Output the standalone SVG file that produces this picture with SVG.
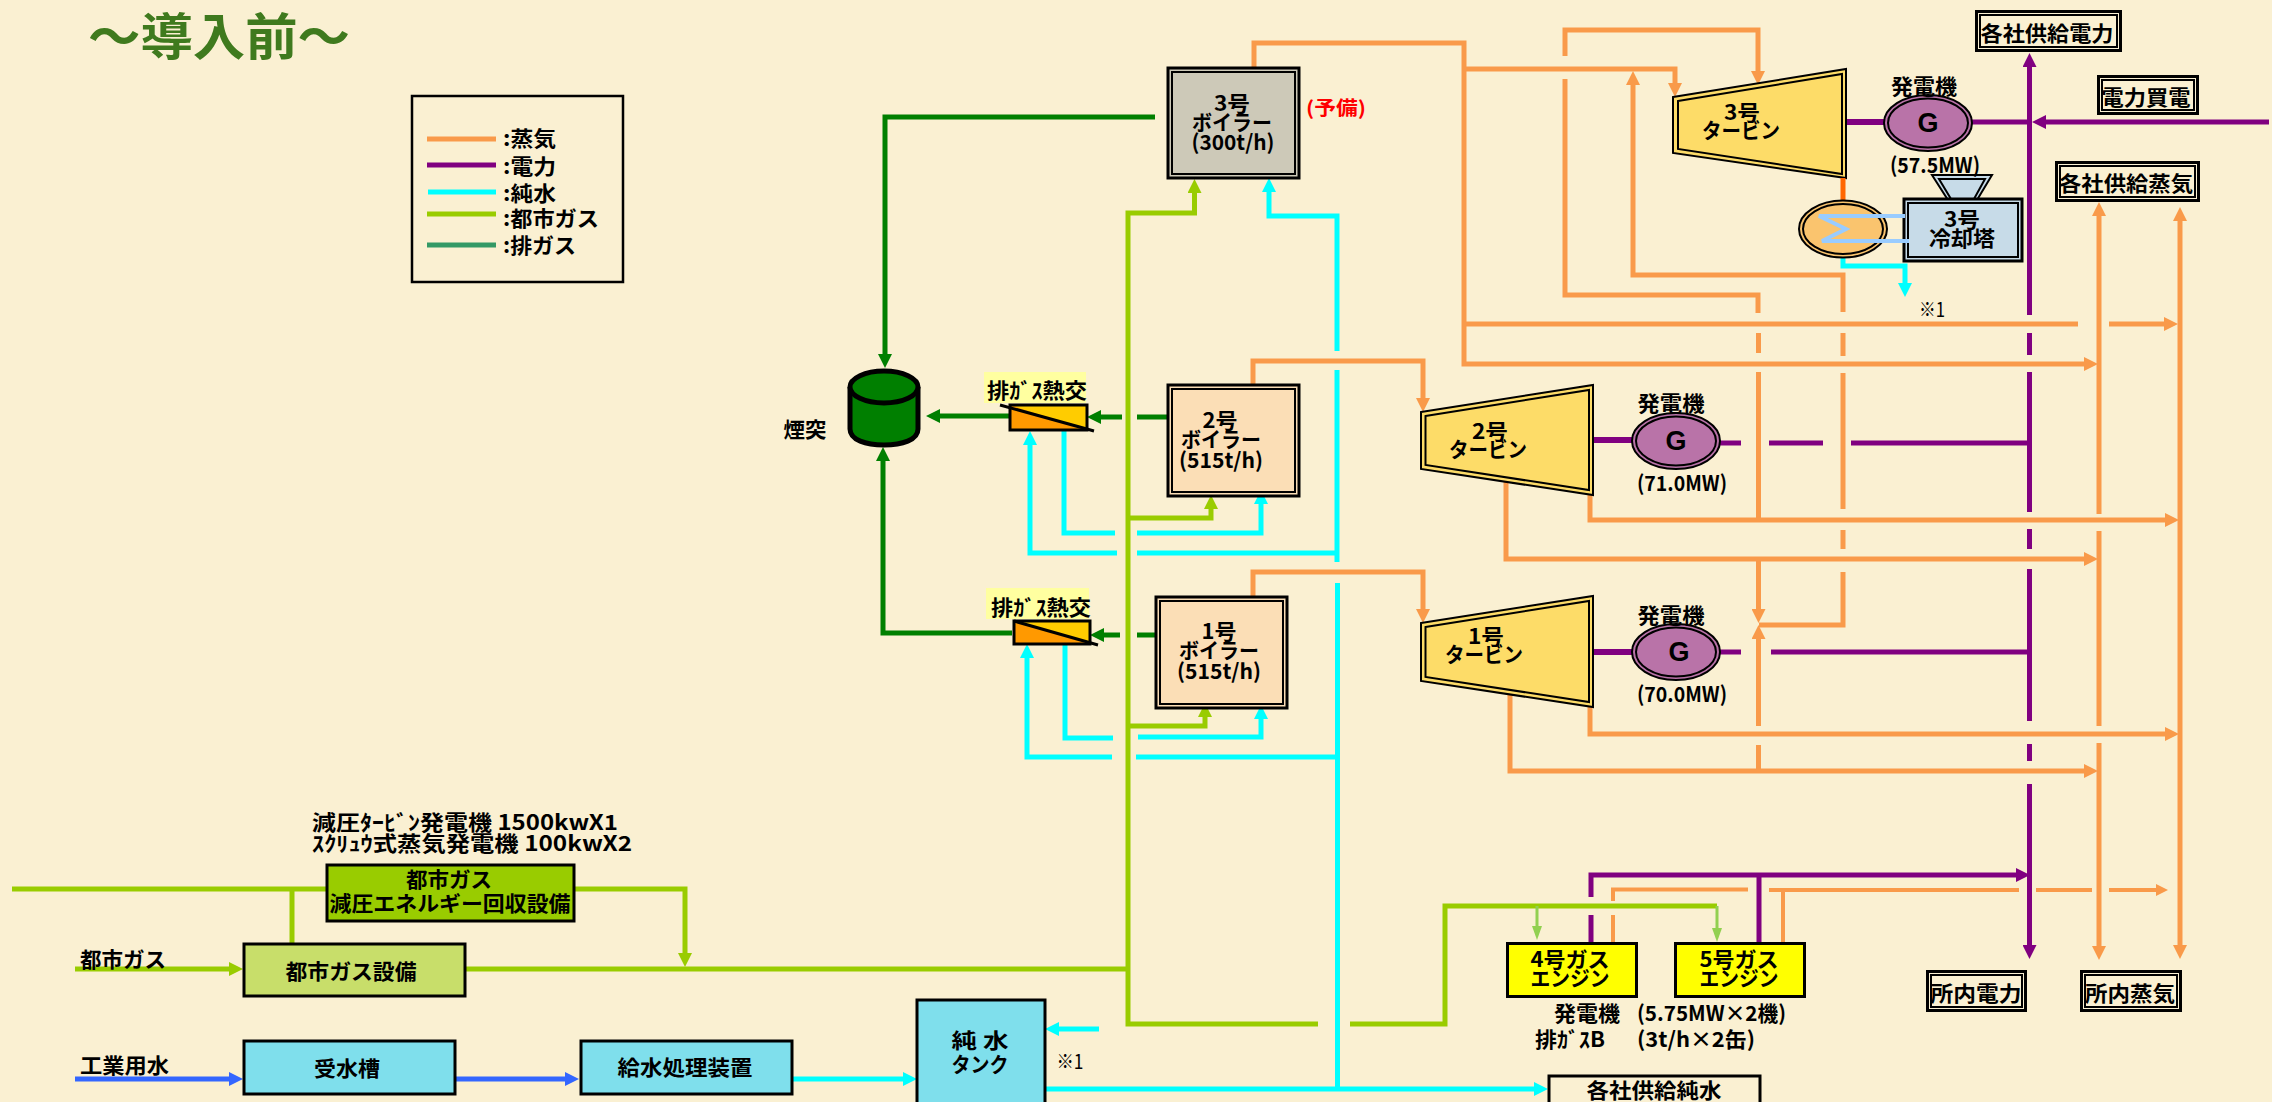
<svg xmlns="http://www.w3.org/2000/svg" width="2272" height="1102" viewBox="0 0 2272 1102">
<style>
text{font-family:"Noto Sans CJK JP","Noto Sans",sans-serif;font-weight:700;fill:#000;text-anchor:middle;dominant-baseline:central;font-size:21px}
.l{text-anchor:start}
.n{font-weight:400}
.g{font-family:"Liberation Sans",Arial,sans-serif;font-size:27px}
line,polyline{fill:none}
.st{stroke:#f99a4a;stroke-width:5}
.st3{stroke:#f99a4a;stroke-width:4}
.pu{stroke:#800080;stroke-width:5}
.cy{stroke:#00ffff;stroke-width:5}
.ga{stroke:#99cc00;stroke-width:5}
.gl{stroke:#92d050;stroke-width:3}
.gr{stroke:#007f00;stroke-width:5}
.bl{stroke:#3366ff;stroke-width:5}
.box{stroke:#000;stroke-width:3}
.fr{stroke:#000;stroke-width:2;fill:none}
</style>
<defs>
<marker id="aS" markerUnits="userSpaceOnUse" markerWidth="14" markerHeight="14" viewBox="0 0 14 14" refX="7" refY="7" orient="auto"><path d="M0 0L14 7L0 14Z" fill="#f99a4a"/></marker>
<marker id="aSs" markerUnits="userSpaceOnUse" markerWidth="12" markerHeight="12" viewBox="0 0 14 14" refX="7" refY="7" orient="auto"><path d="M0 0L14 7L0 14Z" fill="#f99a4a"/></marker>
<marker id="aP" markerUnits="userSpaceOnUse" markerWidth="14" markerHeight="14" viewBox="0 0 14 14" refX="7" refY="7" orient="auto"><path d="M0 0L14 7L0 14Z" fill="#800080"/></marker>
<marker id="aC" markerUnits="userSpaceOnUse" markerWidth="14" markerHeight="14" viewBox="0 0 14 14" refX="7" refY="7" orient="auto"><path d="M0 0L14 7L0 14Z" fill="#00ffff"/></marker>
<marker id="aG" markerUnits="userSpaceOnUse" markerWidth="14" markerHeight="14" viewBox="0 0 14 14" refX="7" refY="7" orient="auto"><path d="M0 0L14 7L0 14Z" fill="#99cc00"/></marker>
<marker id="aL" markerUnits="userSpaceOnUse" markerWidth="14" markerHeight="14" viewBox="0 0 14 10" refX="7" refY="5" orient="auto"><path d="M0 0L14 5L0 10Z" fill="#92d050"/></marker>
<marker id="aD" markerUnits="userSpaceOnUse" markerWidth="14" markerHeight="14" viewBox="0 0 14 14" refX="7" refY="7" orient="auto"><path d="M0 0L14 7L0 14Z" fill="#007f00"/></marker>
<marker id="aB" markerUnits="userSpaceOnUse" markerWidth="14" markerHeight="14" viewBox="0 0 14 14" refX="7" refY="7" orient="auto"><path d="M0 0L14 7L0 14Z" fill="#3366ff"/></marker>
</defs>
<rect width="2272" height="1102" fill="#faf0d2"/>
<text id="title" x="219" y="33" textLength="262" lengthAdjust="spacingAndGlyphs" style="font-size:50px;fill:#3f7a1e">～導入前～</text>

<g id="connectors">
<!-- steam -->
<polyline class="st" points="1254,68 1254,43 1464,43 1464,364 2091,364" marker-end="url(#aS)"/>
<polyline class="st" points="1464,69 1675,69 1675,90" marker-end="url(#aS)"/>
<polyline class="st" points="1464,324 2078,324"/>
<line class="st" x1="2109" y1="324" x2="2171" y2="324" marker-end="url(#aS)"/>
<polyline class="st" points="1565,56 1565,30 1758,30 1758,78" marker-end="url(#aS)"/>
<polyline class="st" points="1565,79 1565,295 1758,295 1758,313"/>
<line class="st" x1="1758.500" y1="333" x2="1758.500" y2="353"/>
<line class="st" x1="1758.500" y1="372" x2="1758.500" y2="520"/>
<line class="st" x1="1758.500" y1="559" x2="1758.500" y2="616" marker-end="url(#aS)"/>
<line class="st" x1="1758.500" y1="726" x2="1758.500" y2="632" marker-end="url(#aS)"/>
<line class="st" x1="1758.500" y1="745" x2="1758.500" y2="771"/>
<polyline class="st" points="1843,312 1843,275 1633,275 1633,78" marker-end="url(#aS)"/>
<line class="st" x1="1843" y1="333" x2="1843" y2="356"/>
<line class="st" x1="1843" y1="373" x2="1843" y2="509"/>
<line class="st" x1="1843" y1="530" x2="1843" y2="549"/>
<polyline class="st" points="1843,572 1843,625 1759,625"/>
<polyline class="st" points="1253,386 1253,361 1423,361 1423,405" marker-end="url(#aS)"/>
<polyline class="st" points="1253,598 1253,572 1423,572 1423,616" marker-end="url(#aS)"/>
<polyline class="st" points="1590,493 1590,520 2172,520" marker-end="url(#aS)"/>
<polyline class="st" points="1506,478 1506,559 2091,559" marker-end="url(#aS)"/>
<polyline class="st" points="1590,705 1590,734 2172,734" marker-end="url(#aS)"/>
<polyline class="st" points="1510,694 1510,771 2091,771" marker-end="url(#aS)"/>
<line class="st" x1="2099" y1="514" x2="2099" y2="209" marker-end="url(#aS)"/>
<line class="st" x1="2099" y1="531" x2="2099" y2="726"/>
<line class="st" x1="2099" y1="743" x2="2099" y2="953" marker-end="url(#aS)"/>
<line class="st" x1="2180" y1="500" x2="2180" y2="952" marker-end="url(#aS)"/>
<line class="st" x1="2180" y1="500" x2="2180" y2="214" marker-end="url(#aS)"/>
<polyline class="st3" points="1613,943 1613,915"/>
<polyline class="st3" points="1613,901 1613,889.500 1748,889.500"/>
<line class="st3" x1="1769" y1="890" x2="2019" y2="890"/>
<line class="st3" x1="2036" y1="890" x2="2092" y2="890"/>
<line class="st3" x1="2109" y1="890" x2="2162" y2="890" marker-end="url(#aSs)"/>
<line class="st3" x1="1783" y1="943" x2="1783" y2="890"/>
<!-- power -->
<line class="pu" x1="1846" y1="122" x2="1884" y2="122" style="stroke-width:6"/>
<line class="pu" x1="1972" y1="122" x2="2030" y2="122"/>
<line class="pu" x1="2269" y1="122" x2="2039" y2="122" marker-end="url(#aP)"/>
<line class="pu" x1="2029.500" y1="315" x2="2029.500" y2="60" marker-end="url(#aP)"/>
<line class="pu" x1="2029.500" y1="333" x2="2029.500" y2="355"/>
<line class="pu" x1="2029.500" y1="372" x2="2029.500" y2="512"/>
<line class="pu" x1="2029.500" y1="529" x2="2029.500" y2="549"/>
<line class="pu" x1="2029.500" y1="569" x2="2029.500" y2="721"/>
<line class="pu" x1="2029.500" y1="744" x2="2029.500" y2="761"/>
<line class="pu" x1="2029.500" y1="784" x2="2029.500" y2="952" marker-end="url(#aP)"/>
<line class="pu" x1="1590" y1="440" x2="1632" y2="440" style="stroke-width:6"/>
<line class="pu" x1="1720" y1="443" x2="1741" y2="443"/>
<line class="pu" x1="1769" y1="443" x2="1823" y2="443"/>
<line class="pu" x1="1851" y1="443" x2="2029" y2="443"/>
<line class="pu" x1="1590" y1="652" x2="1632" y2="652" style="stroke-width:6"/>
<line class="pu" x1="1720" y1="652" x2="1741" y2="652"/>
<line class="pu" x1="1771" y1="652" x2="2029" y2="652"/>
<line class="pu" x1="1591" y1="943" x2="1591" y2="915"/>
<polyline class="pu" points="1591,897 1591,875 2023,875" marker-end="url(#aP)"/>
<line class="pu" x1="1759" y1="943" x2="1759" y2="875"/>
<!-- pure water -->
<polyline class="cy" points="1843,257 1843,266 1905,266 1905,290" marker-end="url(#aC)"/>
<polyline class="cy" points="1337,351 1337,216 1269,216 1269,185" marker-end="url(#aC)"/>
<line class="cy" x1="1337" y1="370" x2="1337" y2="562"/>
<line class="cy" x1="1337.500" y1="583" x2="1337.500" y2="1090"/>
<polyline class="cy" points="1064,430 1064,533 1115,533"/>
<polyline class="cy" points="1137,533 1261,533 1261,497" marker-end="url(#aC)"/>
<polyline class="cy" points="1117,553 1030,553 1030,438" marker-end="url(#aC)"/>
<line class="cy" x1="1137" y1="553" x2="1337" y2="553"/>
<polyline class="cy" points="1065,644 1065,738 1113,738"/>
<polyline class="cy" points="1138,737 1261,737 1261,712" marker-end="url(#aC)"/>
<polyline class="cy" points="1112,757 1027,757 1027,651" marker-end="url(#aC)"/>
<line class="cy" x1="1136" y1="757" x2="1337" y2="757"/>
<line class="cy" x1="792" y1="1079" x2="910" y2="1079" marker-end="url(#aC)"/>
<line class="cy" x1="1099" y1="1029" x2="1052" y2="1029" marker-end="url(#aC)"/>
<line class="cy" x1="1044" y1="1089" x2="1541" y2="1089" marker-end="url(#aC)"/>
<!-- city gas -->
<polyline class="ga" points="1318,1024 1128,1024 1128,213 1194.500,213 1194.500,186" marker-end="url(#aG)"/>
<polyline class="ga" points="1350,1024 1445,1024 1445,906 1717,906"/>
<line class="gl" x1="1537" y1="906" x2="1537" y2="933" marker-end="url(#aL)"/>
<line class="gl" x1="1717" y1="906" x2="1717" y2="935" marker-end="url(#aL)"/>
<line class="ga" x1="465" y1="969" x2="1128" y2="969"/>
<polyline class="ga" points="1127,518 1211,518 1211,502" marker-end="url(#aG)"/>
<polyline class="ga" points="1127,726 1205,726 1205,710" marker-end="url(#aG)"/>
<line class="ga" x1="12" y1="889" x2="326" y2="889"/>
<polyline class="ga" points="574,889 685,889 685,960" marker-end="url(#aG)"/>
<line class="ga" x1="292" y1="889" x2="292" y2="943"/>
<line class="ga" x1="75" y1="969" x2="236" y2="969" marker-end="url(#aG)"/>
<!-- exhaust -->
<polyline class="gr" points="1155,117 885,117 885,361" marker-end="url(#aD)"/>
<line class="gr" x1="1012" y1="416" x2="933" y2="416" marker-end="url(#aD)"/>
<line class="gr" x1="1122" y1="417" x2="1094" y2="417" marker-end="url(#aD)"/>
<line class="gr" x1="1137" y1="417" x2="1168" y2="417"/>
<polyline class="gr" points="1012,633 883,633 883,454" marker-end="url(#aD)"/>
<line class="gr" x1="1120" y1="635" x2="1097" y2="635" marker-end="url(#aD)"/>
<line class="gr" x1="1137" y1="635" x2="1156" y2="635"/>
<!-- industrial water -->
<line class="bl" x1="75" y1="1079" x2="236" y2="1079" marker-end="url(#aB)"/>
<line class="bl" x1="455" y1="1079" x2="572" y2="1079" marker-end="url(#aB)"/>
</g>

<g id="legend">
<rect x="412" y="96" width="211" height="186" fill="none" stroke="#000" stroke-width="2.500"/>
<line class="st" x1="427" y1="139" x2="496" y2="139"/>
<line class="pu" x1="427" y1="165" x2="496" y2="165"/>
<line class="cy" x1="428" y1="192" x2="496" y2="192"/>
<line class="ga" x1="427" y1="214" x2="496" y2="214"/>
<line x1="427" y1="245" x2="496" y2="245" stroke="#339966" stroke-width="5"/>
<text class="l" x="503" y="137" textLength="53" lengthAdjust="spacingAndGlyphs">:蒸気</text>
<text class="l" x="503" y="165" textLength="53" lengthAdjust="spacingAndGlyphs">:電力</text>
<text class="l" x="503" y="192" textLength="53" lengthAdjust="spacingAndGlyphs">:純水</text>
<text class="l" x="503" y="217" textLength="96" lengthAdjust="spacingAndGlyphs">:都市ガス</text>
<text class="l" x="503" y="244" textLength="73" lengthAdjust="spacingAndGlyphs">:排ガス</text>
</g>

<g id="boiler3">
<rect class="box" x="1168" y="68" width="131" height="110" fill="#cdc9b8"/><rect class="fr" x="1172" y="72" width="123" height="102"/>
<text x="1232" y="102" textLength="36" lengthAdjust="spacingAndGlyphs">3号</text>
<text x="1232" y="121" textLength="80" lengthAdjust="spacingAndGlyphs">ボイラー</text>
<text x="1233" y="141" textLength="83" lengthAdjust="spacingAndGlyphs">(300t/h)</text>
</g>
<text id="reserve" x="1336" y="106" textLength="60" lengthAdjust="spacingAndGlyphs" style="fill:#ff0000;font-size:19px">(予備)</text>

<g id="boiler2">
<rect class="box" x="1168" y="385" width="131" height="111" fill="#fbdeb6"/><rect class="fr" x="1172" y="389" width="123" height="103"/>
<text x="1220" y="419" textLength="35" lengthAdjust="spacingAndGlyphs">2号</text>
<text x="1221" y="438" textLength="80" lengthAdjust="spacingAndGlyphs">ボイラー</text>
<text x="1221" y="459" textLength="84" lengthAdjust="spacingAndGlyphs">(515t/h)</text>
</g>
<g id="boiler1">
<rect class="box" x="1156" y="597" width="131" height="111" fill="#fbdeb6"/><rect class="fr" x="1160" y="601" width="123" height="103"/>
<text x="1219" y="630" textLength="35" lengthAdjust="spacingAndGlyphs">1号</text>
<text x="1219" y="649" textLength="80" lengthAdjust="spacingAndGlyphs">ボイラー</text>
<text x="1219" y="670" textLength="84" lengthAdjust="spacingAndGlyphs">(515t/h)</text>
</g>

<g id="turbine3">
<polygon points="1673,97 1846,69 1846,178 1673,153" fill="#fddc68" stroke="#000" stroke-width="2"/>
<polygon points="1678,101 1842,74 1842,174 1678,149" fill="none" stroke="#000" stroke-width="2"/>
<text x="1742" y="111" textLength="36" lengthAdjust="spacingAndGlyphs">3号</text>
<text x="1741" y="129" textLength="78" lengthAdjust="spacingAndGlyphs">タービン</text>
</g>
<g id="turbine2">
<polygon points="1421,412 1593,385 1593,495 1421,469" fill="#fddc68" stroke="#000" stroke-width="2"/>
<polygon points="1425.500,416 1589,390 1589,490 1425.500,465" fill="none" stroke="#000" stroke-width="2"/>
<text x="1490" y="430" textLength="36" lengthAdjust="spacingAndGlyphs">2号</text>
<text x="1488" y="448" textLength="78" lengthAdjust="spacingAndGlyphs">タービン</text>
</g>
<g id="turbine1">
<polygon points="1421,623 1593,596 1593,707 1421,681" fill="#fddc68" stroke="#000" stroke-width="2"/>
<polygon points="1425.500,627 1589,601 1589,702 1425.500,677" fill="none" stroke="#000" stroke-width="2"/>
<text x="1486" y="635" textLength="36" lengthAdjust="spacingAndGlyphs">1号</text>
<text x="1484" y="653" textLength="78" lengthAdjust="spacingAndGlyphs">タービン</text>
</g>

<g id="condenser">
<line x1="1843" y1="178" x2="1843" y2="200" stroke="#ff6600" stroke-width="5"/>
<ellipse cx="1843" cy="229" rx="44" ry="28.500" fill="#fac46e" stroke="#000" stroke-width="2"/>
<ellipse cx="1843" cy="229" rx="40" ry="25" fill="none" stroke="#000" stroke-width="2"/>
</g>
<g id="cooling-tower">
<polygon points="1932,175 1992,175 1977,200 1948,200" fill="#c7dbe8" stroke="#000" stroke-width="2"/>
<polygon points="1939,179 1985,179 1974,199 1951,199" fill="none" stroke="#000" stroke-width="2"/>
<rect class="box" x="1904" y="199" width="118" height="62" fill="#c7dbe8"/><rect class="fr" x="1908" y="203" width="110" height="54"/>
<text x="1962" y="218" textLength="36" lengthAdjust="spacingAndGlyphs">3号</text>
<text x="1962" y="237" textLength="66" lengthAdjust="spacingAndGlyphs">冷却塔</text>
<polyline points="1905,216 1819,216 1846,229 1822,241 1909,241" fill="none" stroke="#99ccff" stroke-width="4"/>
</g>
<text class="n" x="1932" y="308" textLength="26" lengthAdjust="spacingAndGlyphs" style="font-size:20px">※1</text>

<g id="generator3">
<ellipse cx="1928" cy="123" rx="44" ry="28" fill="#b973a8" stroke="#000" stroke-width="2"/>
<ellipse cx="1928" cy="123" rx="40" ry="24.500" fill="none" stroke="#000" stroke-width="2"/>
<text class="g" x="1928" y="123">G</text>
<text x="1924" y="85" textLength="66" lengthAdjust="spacingAndGlyphs">発電機</text>
<text x="1935" y="164" textLength="90" lengthAdjust="spacingAndGlyphs">(57.5MW)</text>
</g>
<g id="generator2">
<ellipse cx="1676" cy="441" rx="44" ry="28" fill="#b973a8" stroke="#000" stroke-width="2"/>
<ellipse cx="1676" cy="441" rx="40" ry="24.500" fill="none" stroke="#000" stroke-width="2"/>
<text class="g" x="1676" y="441">G</text>
<text x="1671" y="402" textLength="67" lengthAdjust="spacingAndGlyphs">発電機</text>
<text x="1682" y="482" textLength="90" lengthAdjust="spacingAndGlyphs">(71.0MW)</text>
</g>
<g id="generator1">
<ellipse cx="1676" cy="652" rx="44" ry="28" fill="#b973a8" stroke="#000" stroke-width="2"/>
<ellipse cx="1676" cy="652" rx="40" ry="24.500" fill="none" stroke="#000" stroke-width="2"/>
<text class="g" x="1679" y="652">G</text>
<text x="1671" y="614" textLength="67" lengthAdjust="spacingAndGlyphs">発電機</text>
<text x="1682" y="693" textLength="90" lengthAdjust="spacingAndGlyphs">(70.0MW)</text>
</g>

<g id="chimney">
<path d="M850 387V429C850 440 866 445 884 445C902 445 918 440 918 429V387" fill="#007f00" stroke="#000" stroke-width="5"/>
<ellipse cx="884" cy="387" rx="34" ry="16" fill="#007f00" stroke="#000" stroke-width="5"/>
</g>
<text id="chimney-label" x="805" y="428" textLength="43" lengthAdjust="spacingAndGlyphs">煙突</text>

<g id="hx2">
<rect x="984" y="372" width="102" height="31" fill="#ffffa0"/>
<text x="1037" y="389" textLength="100" lengthAdjust="spacingAndGlyphs">排ｶﾞｽ熱交</text>
<rect x="1010" y="405" width="77" height="25" fill="#ff9900"/>
<polygon points="1010,405 1087,405 1087,430" fill="#ffcc00"/>
<rect class="box" x="1010" y="405" width="77" height="25" fill="none"/>
<line x1="1000" y1="405" x2="1094" y2="431" stroke="#000" stroke-width="3"/>
</g>
<g id="hx1">
<rect x="986" y="588" width="103" height="31" fill="#ffffa0"/>
<text x="1041" y="606" textLength="100" lengthAdjust="spacingAndGlyphs">排ｶﾞｽ熱交</text>
<rect x="1014" y="621" width="76" height="23" fill="#ff9900"/>
<polygon points="1014,621 1090,621 1090,644" fill="#ffcc00"/>
<rect class="box" x="1014" y="621" width="76" height="23" fill="none"/>
<line x1="1014" y1="621" x2="1098" y2="645" stroke="#000" stroke-width="3"/>
</g>

<g id="supply-power">
<rect class="box" x="1976.500" y="11.500" width="144" height="39" fill="none"/><rect class="fr" x="1980" y="15" width="137" height="32"/>
<text x="2047" y="32" textLength="133" lengthAdjust="spacingAndGlyphs">各社供給電力</text>
</g>
<g id="buy-power">
<rect class="box" x="2098.500" y="76.500" width="99" height="37" fill="none"/><rect class="fr" x="2102" y="80" width="92" height="30"/>
<text x="2146" y="96" textLength="89" lengthAdjust="spacingAndGlyphs">電力買電</text>
</g>
<g id="supply-steam">
<rect class="box" x="2056.500" y="162.500" width="142" height="38" fill="none"/><rect class="fr" x="2060" y="166" width="135" height="31"/>
<text x="2126" y="182" textLength="134" lengthAdjust="spacingAndGlyphs">各社供給蒸気</text>
</g>
<g id="plant-power">
<rect class="box" x="1927.500" y="971.500" width="98" height="39" fill="none"/><rect class="fr" x="1931" y="975" width="91" height="32"/>
<text x="1976" y="992" textLength="91" lengthAdjust="spacingAndGlyphs">所内電力</text>
</g>
<g id="plant-steam">
<rect class="box" x="2081.500" y="971.500" width="99" height="39" fill="none"/><rect class="fr" x="2085" y="975" width="92" height="32"/>
<text x="2130" y="992" textLength="90" lengthAdjust="spacingAndGlyphs">所内蒸気</text>
</g>
<g id="supply-water">
<rect class="box" x="1549" y="1076" width="211" height="30" fill="none"/>
<text x="1654" y="1089" textLength="135" lengthAdjust="spacingAndGlyphs">各社供給純水</text>
</g>

<g id="engine4">
<rect class="box" x="1507.500" y="943.500" width="129" height="53" fill="#ffff00"/>
<text x="1570" y="958" textLength="79" lengthAdjust="spacingAndGlyphs">4号ガス</text>
<text x="1570" y="977" textLength="79" lengthAdjust="spacingAndGlyphs">エンジン</text>
</g>
<g id="engine5">
<rect class="box" x="1675.500" y="943.500" width="129" height="53" fill="#ffff00"/>
<text x="1739" y="958" textLength="79" lengthAdjust="spacingAndGlyphs">5号ガス</text>
<text x="1739" y="977" textLength="79" lengthAdjust="spacingAndGlyphs">エンジン</text>
</g>
<text class="l" x="1554" y="1012" textLength="66" lengthAdjust="spacingAndGlyphs">発電機</text>
<text class="l" x="1637" y="1012" textLength="149" lengthAdjust="spacingAndGlyphs">(5.75MW×2機)</text>
<text class="l" x="1535" y="1038" textLength="70" lengthAdjust="spacingAndGlyphs">排ｶﾞｽB</text>
<text class="l" x="1637" y="1038" textLength="118" lengthAdjust="spacingAndGlyphs">(3t/h×2缶)</text>

<text class="l" x="312" y="821" textLength="306" lengthAdjust="spacingAndGlyphs">減圧ﾀｰﾋﾞﾝ発電機 1500kwX1</text>
<text class="l" x="312" y="842" textLength="320" lengthAdjust="spacingAndGlyphs">ｽｸﾘｭｳ式蒸気発電機 100kwX2</text>
<g id="gas-recovery">
<rect class="box" x="327" y="865" width="247" height="56" fill="#99cc00"/>
<text x="449" y="878" textLength="86" lengthAdjust="spacingAndGlyphs">都市ガス</text>
<text x="450" y="902" textLength="241" lengthAdjust="spacingAndGlyphs">減圧エネルギー回収設備</text>
</g>
<g id="gas-plant">
<rect class="box" x="244" y="944" width="221" height="52" fill="#c8de6a"/>
<text x="351" y="970" textLength="131" lengthAdjust="spacingAndGlyphs">都市ガス設備</text>
</g>
<g id="receiving-tank">
<rect class="box" x="244" y="1041" width="211" height="53" fill="#7fdfec"/>
<text x="347" y="1067" textLength="66" lengthAdjust="spacingAndGlyphs">受水槽</text>
</g>
<g id="feedwater">
<rect class="box" x="581" y="1041" width="211" height="53" fill="#7fdfec"/>
<text x="685" y="1066" textLength="135" lengthAdjust="spacingAndGlyphs">給水処理装置</text>
</g>
<g id="pure-tank">
<rect class="box" x="917" y="1000" width="128" height="110" fill="#7fdfec"/>
<text x="980" y="1039" textLength="57" lengthAdjust="spacingAndGlyphs">純 水</text>
<text x="980" y="1063" textLength="57" lengthAdjust="spacingAndGlyphs">タンク</text>
</g>
<text class="n" x="1070" y="1060" textLength="27" lengthAdjust="spacingAndGlyphs" style="font-size:20px">※1</text>
<text class="l" x="80" y="958" textLength="86" lengthAdjust="spacingAndGlyphs">都市ガス</text>
<text class="l" x="80" y="1064" textLength="89" lengthAdjust="spacingAndGlyphs">工業用水</text>
</svg>
